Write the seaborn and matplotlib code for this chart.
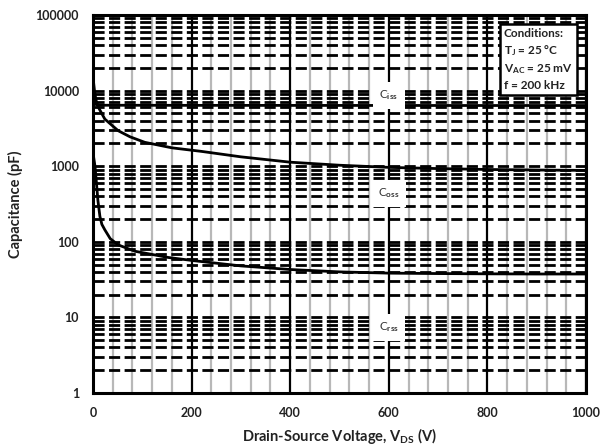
import numpy as np
import pandas as pd
import matplotlib
matplotlib.use("Agg")
import matplotlib.pyplot as plt
import seaborn as sns
from matplotlib.ticker import LogLocator, FixedLocator, NullFormatter

# ---- data ----
ciss_v = [0, 3, 8, 15, 50, 200, 400, 600, 800, 1000]
ciss_c = [7500, 6700, 6450, 6400, 6400, 6380, 6370, 6360, 6350, 6350]

coss_v = [0, 3, 6, 11, 24, 51, 75, 105, 160, 220, 300, 400, 500, 600, 700, 800, 900, 1000]
coss_c = [15000, 10000, 7500, 6000, 4200, 2950, 2450, 2070, 1750, 1570, 1330, 1130, 1030, 965, 930, 905, 890, 880]

crss_v = [0, 4, 7, 10, 14, 18, 24, 35, 51, 85, 153, 207, 300, 400, 500, 600, 700, 800, 900, 1000]
crss_c = [1500, 1000, 600, 350, 217, 170, 144, 110, 91, 75, 62, 56, 48, 43, 40, 38.5, 38, 37.7, 37.5, 37.5]

x_ticks = [0, 200, 400, 600, 800, 1000]
y_ticks = [1, 10, 100, 1000, 10000, 100000]
curve_labels = ["C$_{iss}$", "C$_{oss}$", "C$_{rss}$"]
label_pos_v = [600, 600, 600]
label_pos_c = [8600, 440, 7.4]
cond_lines = ["Conditions:", "T$_J$ = 25 °C", "V$_{AC}$ = 25 mV", "f = 200 kHz"]

df = pd.concat([
    pd.DataFrame({"V": ciss_v, "C": ciss_c, "curve": "Ciss"}),
    pd.DataFrame({"V": coss_v, "C": coss_c, "curve": "Coss"}),
    pd.DataFrame({"V": crss_v, "C": crss_c, "curve": "Crss"}),
])

sns.set_style("white")
plt.rcParams["font.family"] = ["Lato", "DejaVu Sans"]
plt.rcParams["mathtext.fontset"] = "custom"
plt.rcParams["mathtext.rm"] = "Lato:bold"
plt.rcParams["mathtext.it"] = "Lato:bold"
plt.rcParams["mathtext.bf"] = "Lato:bold"

fig = plt.figure(figsize=(6.03, 4.48), dpi=100)
ax = fig.add_axes([93/603, 1-393/448, (586-93)/603, (393-15)/448])

ax.set_yscale("log")
ax.set_xlim(0, 1000)
ax.set_ylim(1, 100000)

# grid
ax.xaxis.set_major_locator(FixedLocator(x_ticks))
ax.xaxis.set_minor_locator(FixedLocator([v for v in range(0, 1001, 40) if v % 200 != 0]))
ax.yaxis.set_major_locator(FixedLocator(y_ticks))
ax.yaxis.set_minor_locator(LogLocator(base=10, subs=np.arange(2, 10), numticks=20))
ax.yaxis.set_minor_formatter(NullFormatter())

ax.grid(which="minor", axis="x", color="#b8b8b8", lw=1.6, ls="-", zorder=0)
ax.grid(which="major", axis="x", color="black", lw=1.6, ls="-", zorder=0)
ax.grid(which="both", axis="y", color="black", lw=2.0, ls=(0, (4, 1.6)), zorder=0)
ax.set_axisbelow(True)

sns.lineplot(data=df, x="V", y="C", units="curve", estimator=None,
             color="black", lw=2.0, ax=ax, sort=False, legend=False)

for lab, xv, yv in zip(curve_labels, label_pos_v, label_pos_c):
    ax.text(xv, yv, lab, ha="center", va="center", fontsize=8.5, color="#333333",
            bbox=dict(boxstyle="square,pad=0.55", fc="white", ec="none"), zorder=5)

ax.text(0.833, 0.965, "\n".join(cond_lines), transform=ax.transAxes, ha="left", va="top",
        fontsize=8.5, fontweight="bold", color="#222222", linespacing=1.4,
        bbox=dict(boxstyle="square,pad=0.35", fc="white", ec="black", lw=1.8), zorder=6)

for s in ax.spines.values():
    s.set_color("black")
    s.set_linewidth(2.2)

ax.set_xticklabels([str(v) for v in x_ticks])
ax.set_yticklabels([str(v) for v in y_ticks])
ax.tick_params(which="major", direction="out", length=4, width=2.2, color="black",
               labelsize=9, pad=6)
ax.tick_params(which="minor", length=0)
for t in ax.get_xticklabels() + ax.get_yticklabels():
    t.set_fontweight("bold")
    t.set_color("#222222")

ax.set_xlabel("Drain-Source Voltage, V$_{DS}$ (V)", fontsize=10.5, fontweight="bold", color="#222222", labelpad=5)
ax.set_ylabel("Capacitance (pF)", fontsize=10.5, fontweight="bold", color="#222222", labelpad=9)

fig.savefig("out.png", dpi=100)
